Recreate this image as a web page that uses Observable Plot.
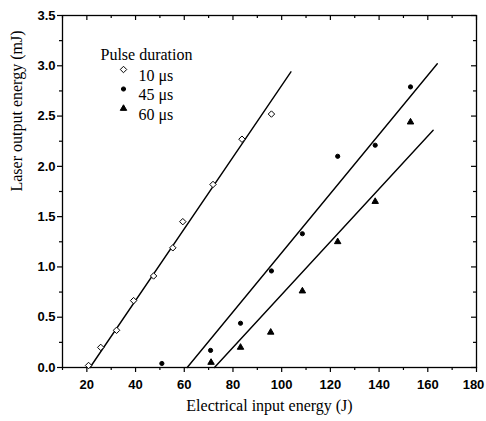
<!DOCTYPE html>
<html><head><meta charset="utf-8">
<script src="https://cdn.jsdelivr.net/npm/d3@7"></script>
<script src="https://cdn.jsdelivr.net/npm/@observablehq/plot@0.6"></script>
<style>body{margin:0;background:#fff}</style>
</head><body><div id="chart"></div>
<script>
// ---- data ----
const seriesLabels = ["10 μs", "45 μs", "60 μs"];
const x10 = [20.7, 25.7, 32.2, 39.2, 47.4, 55.3, 59.4, 71.8, 83.7, 95.8];
const y10 = [0.02, 0.20, 0.37, 0.665, 0.91, 1.19, 1.45, 1.82, 2.27, 2.52];
const x45 = [50.8, 70.8, 83.1, 95.8, 108.5, 123.0, 138.4, 152.9];
const y45 = [0.04, 0.17, 0.44, 0.96, 1.33, 2.10, 2.21, 2.79];
const x60 = [71.0, 83.1, 95.5, 108.5, 123.0, 138.4, 152.9];
const y60 = [0.05, 0.20, 0.35, 0.76, 1.25, 1.65, 2.44];
const fitX10 = [21.3, 103.8], fitY10 = [0, 2.94];
const fitX45 = [61.2, 163.9], fitY45 = [0, 3.02];
const fitX60 = [72.4, 162.2], fitY60 = [0, 2.36];
const xTicks = [20, 40, 60, 80, 100, 120, 140, 160, 180];
const xMinor = [10, 30, 50, 70, 90, 110, 130, 150, 170];
const yTicks = [0, 0.5, 1.0, 1.5, 2.0, 2.5, 3.0, 3.5];
const yMinor = [0.25, 0.75, 1.25, 1.75, 2.25, 2.75, 3.25];
const xTitle = "Electrical input energy (J)";
const yTitle = "Laser output energy (mJ)";
const legendTitle = "Pulse duration";

const zip = (xs, ys) => xs.map((x, i) => ({x, y: ys[i]}));
const W = 486, H = 421, mL = 62, mR = 10, mT = 15, mB = 54;
const pw = W - mL - mR, ph = H - mT - mB;
const sans = "Liberation Sans, Arial, sans-serif";
const serif = "Liberation Serif, Times New Roman, serif";
const symbols = ["diamond2", "circle", "triangle"];
const fills = ["white", "black", "black"];
const radii = [2.9, 2.1, 2.4];
const lastX = xTicks[xTicks.length - 1];

const legendMarks = [];
legendMarks.push(Plot.text([legendTitle], {frameAnchor: "top-left", dx: 38, dy: 33, textAnchor: "start", fontFamily: serif, fontSize: 16, fill: "black"}));
seriesLabels.forEach((s, i) => {
  legendMarks.push(Plot.dot([s], {frameAnchor: "top-left", dx: 61, dy: 54 + i * 19.5, symbol: symbols[i], r: radii[i], fill: fills[i], stroke: "black", strokeWidth: 1}));
  legendMarks.push(Plot.text([s], {frameAnchor: "top-left", dx: 76, dy: 54 + i * 19.5, textAnchor: "start", fontFamily: serif, fontSize: 16, fill: "black"}));
});

const tickFont = {fontSize: 13, fontWeight: "bold", fontFamily: sans};

const chart = Plot.plot({
  width: W, height: H,
  marginLeft: mL, marginRight: mR, marginTop: mT, marginBottom: mB,
  style: {background: "white", color: "black"},
  x: {domain: [10, 180]},
  y: {domain: [0, 3.5]},
  marks: [
    Plot.frame({stroke: "black", strokeWidth: 1.3}),
    Plot.axisX({ticks: xTicks, tickSize: 5, text: null, label: null, strokeWidth: 1.2}),
    Plot.axisX({ticks: xTicks.filter(d => d !== lastX), tickSize: 5, tickPadding: 7, ...tickFont, label: null, tickFormat: d => String(d), strokeWidth: 0}),
    Plot.axisX({ticks: [lastX], tickSize: 5, tickPadding: 7, ...tickFont, label: null, tickFormat: d => String(d), strokeWidth: 0, dx: -3}),
    Plot.axisX({ticks: xMinor, tickSize: 3, text: null, label: null, strokeWidth: 1.2}),
    Plot.axisY({ticks: yTicks, tickSize: 5, tickPadding: 2, ...tickFont, label: null, tickFormat: d => d.toFixed(1), strokeWidth: 1.2}),
    Plot.axisY({ticks: yMinor, tickSize: 3, text: null, label: null, strokeWidth: 1.2}),
    // inward ticks on top and right
    Plot.tickX(xTicks, {x: d => d, insetBottom: ph - 5, stroke: "black", strokeWidth: 1.2}),
    Plot.tickX(xMinor, {x: d => d, insetBottom: ph - 3, stroke: "black", strokeWidth: 1.2}),
    Plot.tickY(yTicks, {y: d => d, insetLeft: pw - 5, stroke: "black", strokeWidth: 1.2}),
    Plot.tickY(yMinor, {y: d => d, insetLeft: pw - 3, stroke: "black", strokeWidth: 1.2}),
    // fit lines
    Plot.line(zip(fitX10, fitY10), {x: "x", y: "y", stroke: "black", strokeWidth: 1.4}),
    Plot.line(zip(fitX45, fitY45), {x: "x", y: "y", stroke: "black", strokeWidth: 1.4}),
    Plot.line(zip(fitX60, fitY60), {x: "x", y: "y", stroke: "black", strokeWidth: 1.4}),
    // data
    Plot.dot(zip(x10, y10), {x: "x", y: "y", symbol: symbols[0], r: radii[0], fill: fills[0], stroke: "black", strokeWidth: 1}),
    Plot.dot(zip(x45, y45), {x: "x", y: "y", symbol: symbols[1], r: radii[1], fill: fills[1], stroke: "black", strokeWidth: 1}),
    Plot.dot(zip(x60, y60), {x: "x", y: "y", symbol: symbols[2], r: radii[2], fill: fills[2], stroke: "black", strokeWidth: 1}),
    ...legendMarks,
    // axis titles
    Plot.text([xTitle], {frameAnchor: "bottom", dy: 43, fontFamily: serif, fontSize: 16, fill: "black"}),
    Plot.text([yTitle], {frameAnchor: "left", dx: -46, rotate: -90, fontFamily: serif, fontSize: 16, fill: "black"})
  ]
});
document.getElementById("chart").appendChild(chart);
</script>
</body></html>
